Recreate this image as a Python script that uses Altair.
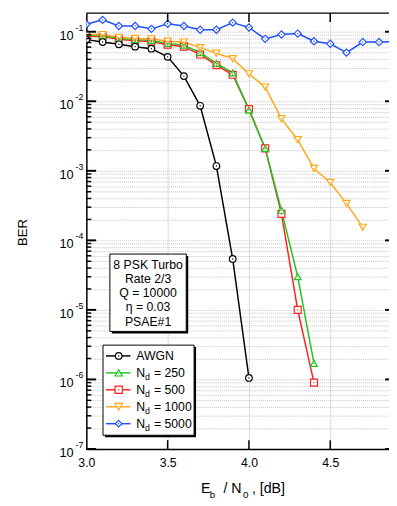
import altair as alt
import pandas as pd

# ---------------- data ----------------
snr_awgn = [3.0, 3.1, 3.2, 3.3, 3.4, 3.5, 3.6, 3.7, 3.8, 3.9, 4.0]
ber_awgn = [0.077, 0.071, 0.066, 0.061, 0.057, 0.0435, 0.023, 0.0086, 0.00117, 5.4e-5, 1.05e-6]

snr_250 = [3.0, 3.1, 3.2, 3.3, 3.4, 3.5, 3.6, 3.7, 3.8, 3.9, 4.0, 4.1, 4.2, 4.3, 4.4]
ber_250 = [0.088, 0.088, 0.080, 0.077, 0.075, 0.068, 0.064, 0.050, 0.035, 0.0256, 0.0075, 0.0021, 2.7e-4, 3.0e-5, 1.7e-6]

snr_500 = [3.0, 3.1, 3.2, 3.3, 3.4, 3.5, 3.6, 3.7, 3.8, 3.9, 4.0, 4.1, 4.2, 4.3, 4.4]
ber_500 = [0.085, 0.085, 0.078, 0.074, 0.072, 0.065, 0.061, 0.047, 0.033, 0.024, 0.0077, 0.0021, 2.4e-4, 1.0e-5, 9.0e-7]

snr_1000 = [3.0, 3.1, 3.2, 3.3, 3.4, 3.5, 3.6, 3.7, 3.8, 3.9, 4.0, 4.1, 4.2, 4.3, 4.4, 4.5, 4.6, 4.7]
ber_1000 = [0.091, 0.091, 0.083, 0.080, 0.079, 0.073, 0.071, 0.059, 0.049, 0.041, 0.0248, 0.016, 0.0056, 0.0028, 0.00108, 6.8e-4, 3.4e-4, 1.54e-4]

snr_5000 = [3.0, 3.1, 3.2, 3.3, 3.4, 3.5, 3.6, 3.7, 3.8, 3.9, 4.0, 4.1, 4.2, 4.3, 4.4, 4.5, 4.6, 4.7, 4.8, 4.9]
ber_5000 = [0.128, 0.148, 0.121, 0.121, 0.110, 0.130, 0.121, 0.107, 0.107, 0.135, 0.115, 0.079, 0.091, 0.094, 0.073, 0.067, 0.050, 0.071, 0.071, 0.072]

series_names = ["AWGN", "Nd = 250", "Nd = 500", "Nd = 1000", "Nd = 5000"]
legend_suffix = ["", " = 250", " = 500", " = 1000", " = 5000"]
series_colors = ["#000000", "#1fc41f", "#ff1f1f", "#ffaa1a", "#1f4fff"]
series_shapes = ["circle", "triangle-up", "square", "triangle-down", "diamond"]
series_sizes = [45, 55, 55, 60, 45]

x_ticks = [3.0, 3.5, 4.0, 4.5]
decades = [1e-7, 1e-6, 1e-5, 1e-4, 1e-3, 1e-2, 1e-1]
decade_exp = ["-7", "-6", "-5", "-4", "-3", "-2", "-1"]
minor_vals = [m * d for d in decades[:-1] for m in range(2, 10)]
grid_vals = sorted(decades + minor_vals)

info_lines = ["8 PSK Turbo", "Rate 2/3", "Q = 10000", "\u03b7 = 0.03", "PSAE#1"]

# ---------------- layout constants ----------------
W, H = 309, 445
FONT = "Liberation Sans"

draw_order = [2, 1, 3, 4, 0]  # red, green, orange, blue, black
all_snr = [snr_awgn, snr_250, snr_500, snr_1000, snr_5000]
all_ber = [ber_awgn, ber_250, ber_500, ber_1000, ber_5000]
rows = []
for i in draw_order:
    for s, b in zip(all_snr[i], all_ber[i]):
        rows.append({"series": series_names[i], "snr": s, "ber": b})
df = pd.DataFrame(rows)

xscale = alt.Scale(domain=[3.0, 3.0 + W / 166.0], nice=False, zero=False)
yscale = alt.Scale(type="log", domain=[1e-7, 10 ** (-1 + 19 / 71)], nice=False)

xaxis = alt.Axis(values=x_ticks, format=".1f", title=None, ticks=False, tickSize=0,
                 labelFontSize=12.5, labelFont=FONT, labelColor="black",
                 labelBaseline="middle", labelPadding=14, labelAngle=0,
                 labelFlush=False, labelOverlap=False, labelAlign="center",
                 domain=True, domainColor="black", domainWidth=1.5,
                 grid=True, gridColor="#b5b5b5", gridDash=[1, 1], gridWidth=1)
yaxis = alt.Axis(values=grid_vals, labels=False, ticks=False, tickSize=0, title=None,
                 domain=True, domainColor="black", domainWidth=1.5,
                 grid=True, gridColor="#c4c4c4", gridDash=[1, 1], gridWidth=1)


def X(f):
    return alt.X(f, type="quantitative", scale=xscale, axis=xaxis)


def Y(f):
    return alt.Y(f, type="quantitative", scale=yscale, axis=yaxis)


one = pd.DataFrame([{"k": 0}])
cscale = alt.Scale(domain=series_names, range=series_colors)

lines = alt.Chart(df).mark_line(strokeWidth=1.5, clip=True).encode(
    x=X("snr"), y=Y("ber"),
    color=alt.Color("series:N", scale=cscale, legend=None),
    detail="series:N", order="snr:Q")

points = alt.Chart(df).mark_point(filled=True, strokeWidth=1.2, opacity=1, clip=True).encode(
    x=X("snr"), y=Y("ber"),
    fill=alt.value("white"),
    stroke=alt.Stroke("series:N", scale=cscale, legend=None),
    shape=alt.Shape("series:N", scale=alt.Scale(domain=series_names, range=series_shapes), legend=None),
    size=alt.Size("series:N", scale=alt.Scale(domain=series_names, range=series_sizes), legend=None))

dots = alt.Chart(df).mark_point(filled=True, size=2, opacity=1, clip=True).encode(
    x=X("snr"), y=Y("ber"),
    color=alt.Color("series:N", scale=cscale, legend=None))

# ---------------- ticks and frame ----------------
dec_df = pd.DataFrame({"v": decades, "e": decade_exp})
minor_df = pd.DataFrame({"v": minor_vals})
xt_df = pd.DataFrame({"x": x_ticks[1:]})

left_major = alt.Chart(dec_df).mark_rule(color="black", strokeWidth=2).encode(
    y=Y("v"), x=alt.value(0), x2=alt.value(10))
left_minor = alt.Chart(minor_df).mark_rule(color="black", strokeWidth=1.5).encode(
    y=Y("v"), x=alt.value(0), x2=alt.value(5))
right_major = alt.Chart(dec_df).mark_rule(color="black", strokeWidth=2).encode(
    y=Y("v"), x=alt.value(W - 4), x2=alt.value(W))
bottom_ticks = alt.Chart(xt_df).mark_rule(color="black", strokeWidth=1.5).encode(
    x=X("x"), y=alt.value(H - 9), y2=alt.value(H))
top_ticks = alt.Chart(xt_df).mark_rule(color="black", strokeWidth=1.5).encode(
    x=X("x"), y=alt.value(0), y2=alt.value(9))
top_border = alt.Chart(one).mark_rule(color="black", strokeWidth=1.5).encode(
    x=alt.value(0), x2=alt.value(W), y=alt.value(0))

lab10 = alt.Chart(dec_df).mark_text(align="right", baseline="middle", fontSize=13, font=FONT,
                                    dy=4, color="black").encode(
    y=Y("v"), x=alt.value(-13), text=alt.value("10"))
labexp = alt.Chart(dec_df).mark_text(align="left", baseline="middle", fontSize=9, font=FONT,
                                     dy=-4, color="black").encode(
    y=Y("v"), x=alt.value(-11), text="e:N")

# ---------------- axis titles ----------------
ber_title = alt.Chart(one).mark_text(text="BER", angle=270, fontSize=13.5, font=FONT,
                                     align="center", baseline="middle", color="black").encode(
    x=alt.value(-65), y=alt.value(224))


def txt(s, x, y, size=14.5, align="left", baseline="alphabetic"):
    return alt.Chart(one).mark_text(text=s, fontSize=size, font=FONT, align=align,
                                    baseline=baseline, color="black").encode(
        x=alt.value(x), y=alt.value(y))


x_title = [txt("E", 117, 490), txt("b", 126, 495, 10), txt("/ N", 140, 490),
           txt("0", 160, 495, 10), txt(", [dB]", 169, 490)]

# ---------------- info box ----------------
def rect(x1, x2, y1, y2, fill, stroke=None, sw=1):
    kw = dict(fill=fill)
    if stroke:
        kw.update(stroke=stroke, strokeWidth=sw)
    return alt.Chart(one).mark_rect(**kw).encode(
        x=alt.value(x1), x2=alt.value(x2), y=alt.value(y1), y2=alt.value(y2))


info = [rect(26, 104, 248, 327, "black"), rect(24, 102, 246, 325, "white", "black", 1)]
for i, s in enumerate(info_lines):
    info.append(txt(s, 63, 257 + i * 14.5, 12.5, align="center", baseline="middle"))

# ---------------- legend ----------------
leg = [rect(19, 112, 341, 433, "black"), rect(17, 110, 339, 431, "white", "black", 1)]
for i in range(5):
    yy = 350 + i * 17.3
    c = series_colors[i]
    leg.append(alt.Chart(one).mark_rule(color=c, strokeWidth=1.5).encode(
        x=alt.value(20), x2=alt.value(45), y=alt.value(yy)))
    leg.append(alt.Chart(one).mark_point(filled=True, fill="white", stroke=c, strokeWidth=1.2,
                                         opacity=1, shape=series_shapes[i],
                                         size=series_sizes[i]).encode(
        x=alt.value(33), y=alt.value(yy)))
    leg.append(alt.Chart(one).mark_point(filled=True, color=c, size=2, opacity=1).encode(
        x=alt.value(33), y=alt.value(yy)))
    if i == 0:
        leg.append(txt("AWGN", 51, yy, 12.5, baseline="middle"))
    else:
        leg.append(txt("N", 51, yy, 12.5, baseline="middle"))
        leg.append(txt("d", 60, yy + 4, 9, baseline="middle"))
        leg.append(txt(legend_suffix[i].strip(), 69, yy, 12.5, baseline="middle"))

chart = alt.layer(
    lines, points, dots,
    left_major, left_minor, right_major, bottom_ticks, top_ticks, top_border,
    lab10, labexp, ber_title, *x_title, *info, *leg
).properties(
    width=W, height=H,
    autosize=alt.AutoSizeParams(type="none"),
    padding={"left": 80, "top": 0, "right": 0, "bottom": 52},
).configure_view(stroke=None)

chart.save("out.html", embed_options={"renderer": "svg", "actions": False})
